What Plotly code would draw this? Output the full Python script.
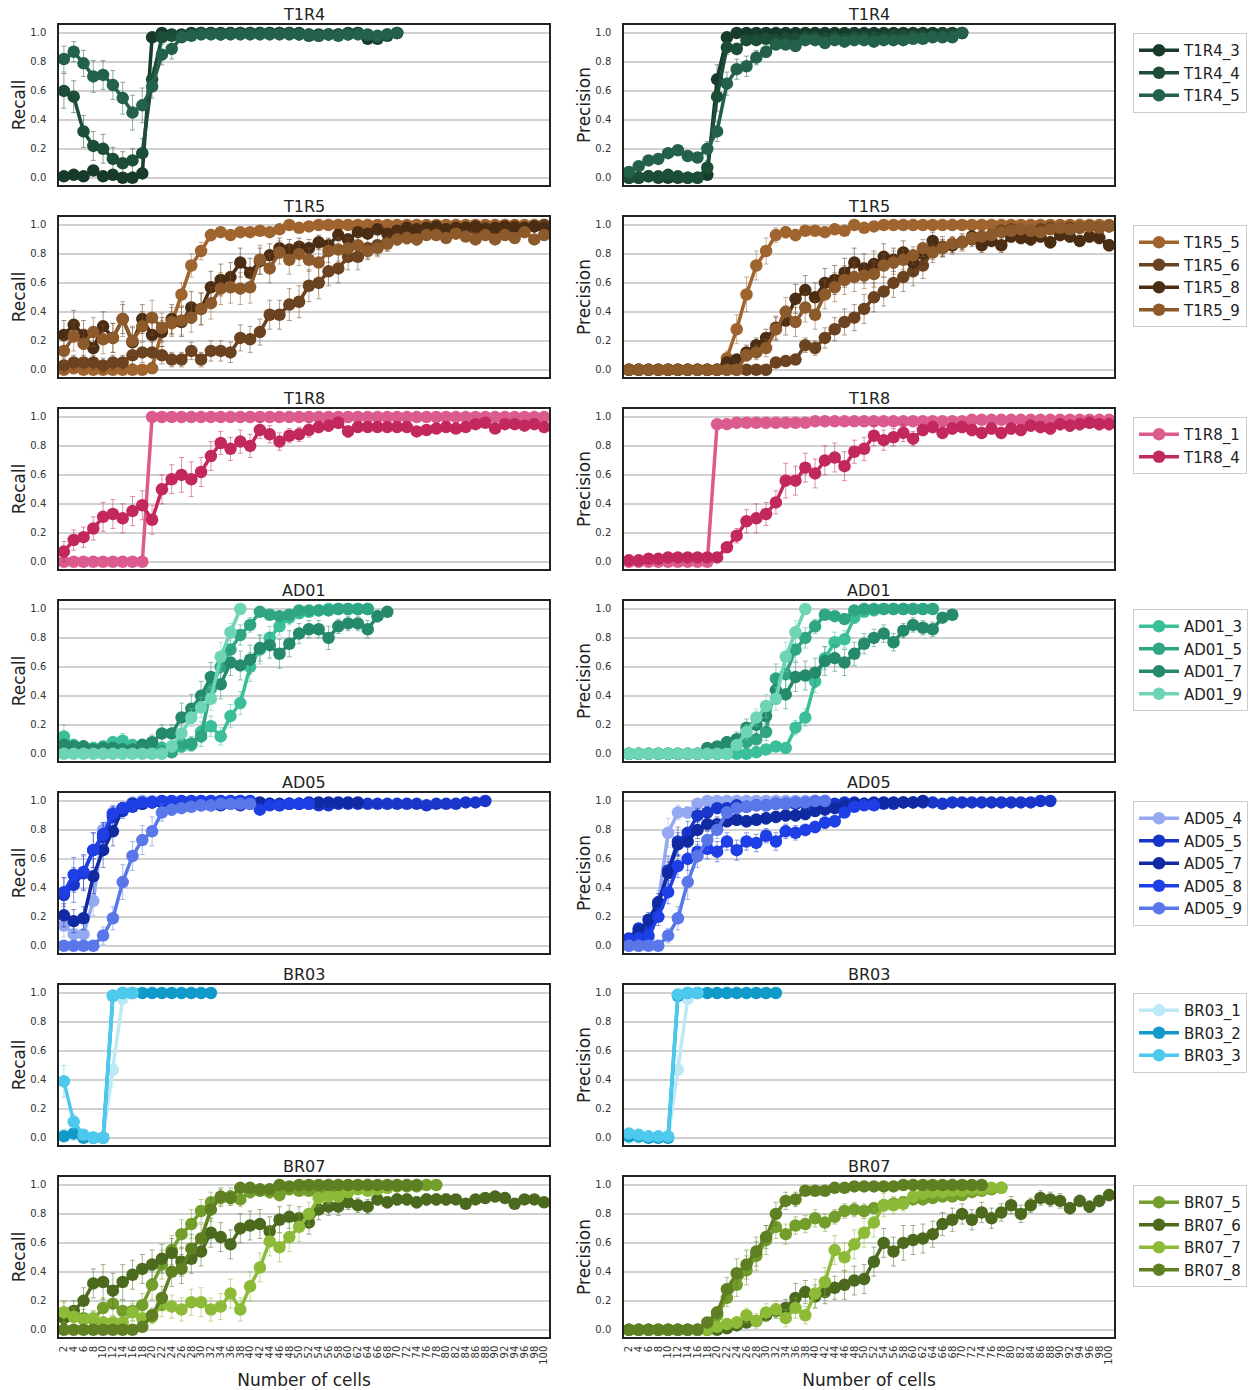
import plotly.graph_objects as go
from plotly.subplots import make_subplots

# ---------------- data ----------------
CELLS = [2, 4, 6, 8, 10, 12, 14, 16, 18, 20, 22, 24, 26, 28, 30, 32, 34, 36, 38, 40,
         42, 44, 46, 48, 50, 52, 54, 56, 58, 60, 62, 64, 66, 68, 70, 72, 74, 76, 78, 80,
         82, 84, 86, 88, 90, 92, 94, 96, 98, 100]
CELL_LABELS = [str(c) for c in CELLS]
SAMPLES = ["T1R4", "T1R5", "T1R8", "AD01", "AD05", "BR03", "BR07"]

# ---- T1R4 ----
T1R4_NAMES = ["T1R4_3", "T1R4_4", "T1R4_5"]
T1R4_COLORS = ["#173a2a", "#1c4d36", "#24614a"]
T1R4_3_REC = [0.01, 0.02, 0.01, 0.05, 0.01, 0.02, 0.0, 0.0, 0.03, 0.97,
              1.0, 0.99, 0.99, 1.0, 1.0, 1.0, 1.0, 1.0, 1.0, 1.0,
              1.0, 1.0, 1.0, 1.0, 1.0, 0.99, 0.99, 0.99, 0.99, 1.0,
              1.0, 0.96, 0.96, 0.98, 1.0]
T1R4_4_REC = [0.60, 0.56, 0.32, 0.22, 0.20, 0.13, 0.10, 0.12, 0.17, 0.68,
              0.97, 0.98, 0.98, 0.99, 1.0, 1.0, 0.99, 1.0, 1.0, 1.0,
              1.0, 1.0, 1.0, 1.0, 0.99, 0.98, 0.98, 0.99, 0.99, 0.99,
              1.0, 0.98, 0.97, 0.99, 1.0]
T1R4_5_REC = [0.82, 0.87, 0.79, 0.70, 0.71, 0.64, 0.55, 0.45, 0.50, 0.63,
              0.85, 0.89, 0.97, 0.98, 0.99, 0.99, 0.99, 0.99, 0.99, 0.99,
              0.99, 0.99, 0.99, 0.99, 0.99, 0.99, 0.98, 0.99, 0.98, 0.99,
              0.99, 0.99, 0.98, 0.99, 1.0]
T1R4_3_REC_ERR = [0.02, 0.02, 0.02, 0.03, 0.02, 0.02, 0.02, 0.02, 0.03, 0.03,
                  0.01, 0.01, 0.01, 0.01, 0.01, 0.01, 0.01, 0.01, 0.01, 0.01,
                  0.01, 0.01, 0.01, 0.01, 0.01, 0.01, 0.01, 0.01, 0.01, 0.01,
                  0.01, 0.02, 0.02, 0.01, 0.01]
T1R4_4_REC_ERR = [0.12, 0.11, 0.11, 0.10, 0.10, 0.08, 0.08, 0.08, 0.10, 0.08,
                  0.03, 0.02, 0.02, 0.01, 0.01, 0.01, 0.01, 0.01, 0.01, 0.01,
                  0.01, 0.01, 0.01, 0.01, 0.01, 0.01, 0.01, 0.01, 0.01, 0.01,
                  0.01, 0.02, 0.02, 0.01, 0.01]
T1R4_5_REC_ERR = [0.09, 0.07, 0.09, 0.11, 0.10, 0.10, 0.11, 0.12, 0.12, 0.08,
                  0.07, 0.07, 0.03, 0.02, 0.01, 0.01, 0.01, 0.01, 0.01, 0.01,
                  0.01, 0.01, 0.01, 0.01, 0.01, 0.01, 0.01, 0.01, 0.01, 0.01,
                  0.01, 0.01, 0.01, 0.01, 0.01]
T1R4_3_PRE = [0.0, 0.0, 0.01, 0.0, 0.0, 0.0, 0.0, 0.0, 0.02, 0.68,
              0.97, 1.0, 1.0, 1.0, 1.0, 1.0, 1.0, 1.0, 1.0, 1.0,
              1.0, 1.0, 1.0, 1.0, 1.0, 1.0, 1.0, 1.0, 1.0, 1.0,
              1.0, 1.0, 1.0, 1.0, 1.0]
T1R4_4_PRE = [0.0, 0.0, 0.01, 0.01, 0.02, 0.01, 0.0, 0.0, 0.07, 0.56,
              0.90, 0.89, 0.95, 0.95, 0.96, 0.95, 0.96, 0.96, 0.97, 0.97,
              0.96, 0.97, 0.96, 0.97, 0.97, 0.97, 0.97, 0.98, 0.98, 0.98,
              0.98, 0.98, 0.99, 0.99, 1.0]
T1R4_5_PRE = [0.04, 0.08, 0.12, 0.13, 0.17, 0.19, 0.15, 0.14, 0.20, 0.32,
              0.65, 0.75, 0.77, 0.83, 0.87, 0.92, 0.92, 0.91, 0.95, 0.95,
              0.93, 0.95, 0.94, 0.95, 0.95, 0.94, 0.95, 0.95, 0.95, 0.96,
              0.96, 0.97, 0.97, 0.97, 1.0]
T1R4_3_PRE_ERR = [0.01, 0.01, 0.01, 0.01, 0.01, 0.01, 0.01, 0.01, 0.02, 0.10,
                  0.02, 0.01, 0.01, 0.01, 0.01, 0.01, 0.01, 0.01, 0.01, 0.01,
                  0.01, 0.01, 0.01, 0.01, 0.01, 0.01, 0.01, 0.01, 0.01, 0.01,
                  0.01, 0.01, 0.01, 0.01, 0.01]
T1R4_4_PRE_ERR = [0.01, 0.01, 0.01, 0.01, 0.01, 0.01, 0.01, 0.01, 0.05, 0.10,
                  0.05, 0.04, 0.02, 0.02, 0.02, 0.02, 0.02, 0.02, 0.02, 0.02,
                  0.02, 0.02, 0.02, 0.02, 0.02, 0.02, 0.02, 0.01, 0.01, 0.01,
                  0.01, 0.01, 0.01, 0.01, 0.01]
T1R4_5_PRE_ERR = [0.03, 0.03, 0.03, 0.03, 0.03, 0.03, 0.03, 0.03, 0.05, 0.07,
                  0.08, 0.07, 0.07, 0.05, 0.04, 0.03, 0.03, 0.03, 0.02, 0.02,
                  0.02, 0.02, 0.02, 0.02, 0.02, 0.02, 0.02, 0.02, 0.02, 0.02,
                  0.02, 0.02, 0.02, 0.02, 0.01]

# ---- T1R5 ----
T1R5_NAMES = ["T1R5_5", "T1R5_6", "T1R5_8", "T1R5_9"]
T1R5_COLORS = ["#a0642f", "#6c4320", "#4b2d13", "#8c5a2b"]
T1R5_5_REC = [0.0, 0.01, 0.0, 0.0, 0.0, 0.0, 0.0, 0.0, 0.0, 0.01,
              0.27, 0.32, 0.52, 0.72, 0.82, 0.93, 0.95, 0.93, 0.95, 0.95,
              0.96, 0.95, 0.97, 1.0, 0.98, 0.99, 1.0, 1.0, 1.0, 1.0,
              1.0, 1.0, 1.0, 1.0, 1.0, 1.0, 1.0, 1.0, 1.0, 1.0,
              1.0, 1.0, 1.0, 1.0, 1.0, 1.0, 1.0, 1.0, 1.0, 1.0]
T1R5_6_REC = [0.03, 0.05, 0.05, 0.05, 0.03, 0.05, 0.05, 0.10, 0.12, 0.12,
              0.10, 0.07, 0.07, 0.13, 0.07, 0.13, 0.13, 0.12, 0.22, 0.21,
              0.26, 0.38, 0.38, 0.45, 0.47, 0.58, 0.60, 0.68, 0.70, 0.78,
              0.78, 0.84, 0.86, 0.88, 0.92, 0.92, 0.94, 0.95, 0.96, 0.97,
              0.96, 0.98, 0.97, 0.98, 0.97, 0.98, 0.99, 0.98, 0.99, 1.0]
T1R5_8_REC = [0.24, 0.31, 0.24, 0.15, 0.30, 0.22, 0.35, 0.19, 0.35, 0.24,
              0.26, 0.35, 0.33, 0.43, 0.42, 0.57, 0.62, 0.64, 0.74, 0.67,
              0.75, 0.79, 0.84, 0.83, 0.85, 0.84, 0.88, 0.86, 0.93, 0.90,
              0.95, 0.94, 0.97, 0.94, 0.96, 0.98, 0.97, 0.98, 0.99, 0.97,
              0.98, 0.98, 0.99, 0.97, 0.98, 0.99, 0.98, 0.98, 0.99, 0.98]
T1R5_9_REC = [0.13, 0.23, 0.18, 0.26, 0.21, 0.22, 0.35, 0.20, 0.30, 0.36,
              0.29, 0.33, 0.34, 0.36, 0.42, 0.46, 0.56, 0.57, 0.56, 0.57,
              0.76, 0.70, 0.81, 0.76, 0.80, 0.76, 0.74, 0.82, 0.83, 0.84,
              0.86, 0.82, 0.84, 0.87, 0.90, 0.91, 0.90, 0.93, 0.93, 0.91,
              0.94, 0.92, 0.90, 0.93, 0.90, 0.93, 0.91, 0.95, 0.90, 0.93]
T1R5_5_REC_ERR = [0.01, 0.01, 0.01, 0.01, 0.01, 0.01, 0.01, 0.01, 0.01, 0.01,
                  0.07, 0.08, 0.08, 0.08, 0.06, 0.04, 0.03, 0.03, 0.03, 0.03,
                  0.02, 0.02, 0.02, 0.02, 0.02, 0.02, 0.02, 0.02, 0.02, 0.02,
                  0.02, 0.02, 0.02, 0.02, 0.02, 0.02, 0.02, 0.02, 0.02, 0.02,
                  0.02, 0.02, 0.02, 0.02, 0.02, 0.02, 0.02, 0.02, 0.02, 0.02]
T1R5_6_REC_ERR = [0.05, 0.05, 0.05, 0.05, 0.05, 0.05, 0.05, 0.06, 0.07, 0.07,
                  0.06, 0.05, 0.05, 0.06, 0.05, 0.07, 0.07, 0.07, 0.09, 0.09,
                  0.09, 0.10, 0.10, 0.11, 0.11, 0.11, 0.11, 0.10, 0.10, 0.09,
                  0.09, 0.07, 0.07, 0.06, 0.05, 0.05, 0.04, 0.04, 0.03, 0.03,
                  0.03, 0.03, 0.03, 0.03, 0.03, 0.03, 0.02, 0.02, 0.02, 0.02]
T1R5_8_REC_ERR = [0.10, 0.10, 0.10, 0.08, 0.10, 0.10, 0.10, 0.10, 0.10, 0.10,
                  0.10, 0.10, 0.10, 0.11, 0.11, 0.11, 0.11, 0.10, 0.10, 0.10,
                  0.09, 0.08, 0.07, 0.07, 0.06, 0.06, 0.05, 0.05, 0.04, 0.04,
                  0.03, 0.03, 0.03, 0.03, 0.03, 0.02, 0.02, 0.02, 0.02, 0.02,
                  0.02, 0.02, 0.02, 0.02, 0.02, 0.02, 0.02, 0.02, 0.02, 0.02]
T1R5_9_REC_ERR = [0.08, 0.10, 0.10, 0.10, 0.10, 0.10, 0.12, 0.10, 0.10, 0.12,
                  0.10, 0.10, 0.10, 0.10, 0.11, 0.11, 0.11, 0.11, 0.11, 0.11,
                  0.10, 0.10, 0.08, 0.10, 0.08, 0.08, 0.10, 0.08, 0.08, 0.07,
                  0.06, 0.06, 0.06, 0.05, 0.04, 0.04, 0.04, 0.03, 0.03, 0.03,
                  0.03, 0.03, 0.03, 0.03, 0.03, 0.03, 0.03, 0.03, 0.03, 0.03]
T1R5_5_PRE = [0.0, 0.0, 0.0, 0.0, 0.0, 0.0, 0.0, 0.0, 0.0, 0.0,
              0.08, 0.28, 0.52, 0.72, 0.82, 0.93, 0.95, 0.93, 0.96, 0.96,
              0.95, 0.97, 0.96, 1.0, 0.98, 0.99, 1.0, 1.0, 1.0, 1.0,
              1.0, 1.0, 1.0, 1.0, 1.0, 1.0, 1.0, 1.0, 1.0, 1.0,
              1.0, 1.0, 1.0, 1.0, 1.0, 1.0, 1.0, 1.0, 1.0, 1.0]
T1R5_6_PRE = [0.0, 0.0, 0.0, 0.0, 0.0, 0.0, 0.0, 0.0, 0.0, 0.0,
              0.0, 0.0, 0.0, 0.0, 0.0, 0.05, 0.06, 0.07, 0.17, 0.15,
              0.22, 0.28, 0.33, 0.36, 0.42, 0.50, 0.54, 0.60, 0.64, 0.68,
              0.72, 0.82, 0.85, 0.86, 0.88, 0.90, 0.92, 0.93, 0.96, 0.97,
              0.95, 0.96, 0.97, 0.98, 0.97, 0.98, 0.98, 0.99, 0.98, 0.99]
T1R5_8_PRE = [0.0, 0.0, 0.0, 0.0, 0.0, 0.0, 0.0, 0.0, 0.0, 0.0,
              0.05, 0.07, 0.12, 0.17, 0.22, 0.29, 0.34, 0.49, 0.55, 0.50,
              0.60, 0.62, 0.67, 0.74, 0.70, 0.73, 0.78, 0.76, 0.81, 0.74,
              0.80, 0.89, 0.84, 0.86, 0.88, 0.92, 0.86, 0.89, 0.86, 0.92,
              0.91, 0.90, 0.92, 0.88, 0.93, 0.92, 0.89, 0.92, 0.91, 0.86]
T1R5_9_PRE = [0.0, 0.0, 0.0, 0.0, 0.0, 0.0, 0.0, 0.0, 0.0, 0.0,
              0.0, 0.0, 0.10, 0.12, 0.15, 0.28, 0.40, 0.33, 0.43, 0.38,
              0.52, 0.57, 0.62, 0.64, 0.65, 0.66, 0.72, 0.74, 0.76, 0.79,
              0.84, 0.81, 0.84, 0.87, 0.88, 0.91, 0.92, 0.93, 0.95, 0.96,
              0.97, 0.96, 0.95, 0.97, 0.98, 0.97, 0.98, 0.99, 0.98, 0.99]
T1R5_5_PRE_ERR = [0.01, 0.01, 0.01, 0.01, 0.01, 0.01, 0.01, 0.01, 0.01, 0.01,
                  0.05, 0.10, 0.12, 0.10, 0.09, 0.05, 0.04, 0.04, 0.03, 0.03,
                  0.03, 0.03, 0.03, 0.02, 0.02, 0.02, 0.02, 0.02, 0.02, 0.02,
                  0.02, 0.02, 0.02, 0.02, 0.02, 0.02, 0.02, 0.02, 0.02, 0.02,
                  0.02, 0.02, 0.02, 0.02, 0.02, 0.02, 0.02, 0.02, 0.02, 0.02]
T1R5_6_PRE_ERR = [0.01, 0.01, 0.01, 0.01, 0.01, 0.01, 0.01, 0.01, 0.01, 0.01,
                  0.01, 0.01, 0.01, 0.01, 0.01, 0.03, 0.03, 0.03, 0.05, 0.05,
                  0.07, 0.08, 0.09, 0.09, 0.10, 0.10, 0.10, 0.10, 0.10, 0.10,
                  0.09, 0.08, 0.07, 0.06, 0.06, 0.05, 0.04, 0.04, 0.03, 0.03,
                  0.03, 0.03, 0.03, 0.02, 0.02, 0.02, 0.02, 0.02, 0.02, 0.02]
T1R5_8_PRE_ERR = [0.01, 0.01, 0.01, 0.01, 0.01, 0.01, 0.01, 0.01, 0.01, 0.01,
                  0.03, 0.03, 0.05, 0.05, 0.06, 0.08, 0.10, 0.10, 0.10, 0.10,
                  0.10, 0.10, 0.10, 0.10, 0.10, 0.09, 0.09, 0.08, 0.08, 0.08,
                  0.07, 0.06, 0.06, 0.05, 0.05, 0.04, 0.05, 0.04, 0.05, 0.04,
                  0.04, 0.04, 0.04, 0.04, 0.04, 0.04, 0.04, 0.04, 0.04, 0.04]
T1R5_9_PRE_ERR = [0.01, 0.01, 0.01, 0.01, 0.01, 0.01, 0.01, 0.01, 0.01, 0.01,
                  0.01, 0.01, 0.04, 0.05, 0.06, 0.08, 0.10, 0.10, 0.10, 0.10,
                  0.10, 0.10, 0.10, 0.10, 0.09, 0.09, 0.08, 0.08, 0.07, 0.06,
                  0.06, 0.05, 0.05, 0.04, 0.04, 0.03, 0.03, 0.03, 0.03, 0.03,
                  0.02, 0.02, 0.02, 0.02, 0.02, 0.02, 0.02, 0.02, 0.02, 0.02]

# ---- T1R8 ----
T1R8_NAMES = ["T1R8_1", "T1R8_4"]
T1R8_COLORS = ["#dc5b8e", "#c2285e"]
T1R8_1_REC = [0.0, 0.0, 0.0, 0.0, 0.0, 0.0, 0.0, 0.0, 0.0, 1.0,
              1.0, 1.0, 1.0, 1.0, 1.0, 1.0, 1.0, 1.0, 1.0, 1.0,
              1.0, 1.0, 1.0, 1.0, 1.0, 1.0, 1.0, 1.0, 1.0, 1.0,
              1.0, 1.0, 1.0, 1.0, 1.0, 1.0, 1.0, 1.0, 1.0, 1.0,
              1.0, 1.0, 1.0, 1.0, 1.0, 1.0, 1.0, 1.0, 1.0, 1.0]
T1R8_4_REC = [0.07, 0.15, 0.17, 0.23, 0.31, 0.33, 0.30, 0.35, 0.39, 0.29,
              0.50, 0.57, 0.60, 0.57, 0.62, 0.73, 0.82, 0.78, 0.83, 0.80,
              0.91, 0.88, 0.83, 0.87, 0.88, 0.91, 0.93, 0.94, 0.96, 0.90,
              0.93, 0.93, 0.93, 0.93, 0.93, 0.93, 0.90, 0.91, 0.92, 0.93,
              0.92, 0.93, 0.95, 0.96, 0.92, 0.95, 0.95, 0.94, 0.95, 0.93]
T1R8_4_REC_ERR = [0.07, 0.07, 0.07, 0.08, 0.10, 0.10, 0.10, 0.10, 0.10, 0.10,
                  0.10, 0.10, 0.12, 0.12, 0.10, 0.10, 0.08, 0.08, 0.08, 0.08,
                  0.06, 0.06, 0.06, 0.05, 0.05, 0.05, 0.04, 0.04, 0.04, 0.04,
                  0.03, 0.03, 0.03, 0.03, 0.03, 0.03, 0.03, 0.03, 0.03, 0.03,
                  0.03, 0.03, 0.03, 0.03, 0.03, 0.03, 0.03, 0.03, 0.03, 0.03]
T1R8_1_PRE = [0.0, 0.0, 0.0, 0.0, 0.0, 0.0, 0.0, 0.0, 0.0, 0.95,
              0.95, 0.96, 0.96, 0.96, 0.96, 0.96, 0.96, 0.96, 0.96, 0.97,
              0.97, 0.97, 0.97, 0.97, 0.97, 0.97, 0.97, 0.97, 0.97, 0.97,
              0.97, 0.97, 0.97, 0.97, 0.97, 0.98, 0.98, 0.98, 0.98, 0.98,
              0.98, 0.98, 0.98, 0.98, 0.98, 0.98, 0.98, 0.98, 0.98, 0.98]
T1R8_4_PRE = [0.01, 0.01, 0.02, 0.02, 0.03, 0.03, 0.03, 0.03, 0.03, 0.03,
              0.10, 0.18, 0.28, 0.30, 0.33, 0.41, 0.56, 0.56, 0.65, 0.61,
              0.70, 0.72, 0.66, 0.76, 0.78, 0.87, 0.84, 0.86, 0.89, 0.85,
              0.91, 0.93, 0.89, 0.92, 0.93, 0.91, 0.89, 0.92, 0.89, 0.92,
              0.91, 0.94, 0.93, 0.92, 0.95, 0.94, 0.95, 0.96, 0.95, 0.95]
T1R8_4_PRE_ERR = [0.01, 0.01, 0.01, 0.01, 0.01, 0.01, 0.01, 0.01, 0.01, 0.01,
                  0.03, 0.05, 0.08, 0.10, 0.08, 0.08, 0.12, 0.10, 0.10, 0.10,
                  0.10, 0.10, 0.10, 0.08, 0.08, 0.07, 0.07, 0.06, 0.06, 0.05,
                  0.04, 0.04, 0.04, 0.04, 0.04, 0.04, 0.04, 0.04, 0.04, 0.04,
                  0.04, 0.04, 0.04, 0.04, 0.04, 0.04, 0.04, 0.04, 0.04, 0.04]

# ---- AD01 ----
AD01_NAMES = ["AD01_3", "AD01_5", "AD01_7", "AD01_9"]
AD01_COLORS = ["#3bbf9b", "#2fa583", "#25896b", "#6ed4b6"]
AD01_3_REC = [0.12, 0.06, 0.05, 0.04, 0.05, 0.08, 0.09, 0.06, 0.06, 0.05,
              0.04, 0.02, 0.05, 0.06, 0.15, 0.19, 0.12, 0.26, 0.35, 0.60,
              0.72, 0.80, 0.88, 0.94, 0.97, 0.98, 0.99, 1.0, 1.0, 1.0,
              1.0, 1.0]
AD01_5_REC = [0.06, 0.04, 0.04, 0.02, 0.04, 0.03, 0.03, 0.03, 0.04, 0.03,
              0.02, 0.01, 0.07, 0.07, 0.12, 0.45, 0.60, 0.72, 0.82, 0.89,
              0.98, 0.96, 0.95, 0.96, 0.99, 0.99, 0.99, 0.99, 1.0, 1.0,
              1.0, 1.0]
AD01_7_REC = [0.06, 0.05, 0.05, 0.03, 0.04, 0.04, 0.03, 0.03, 0.06, 0.08,
              0.14, 0.14, 0.25, 0.31, 0.40, 0.53, 0.48, 0.63, 0.61, 0.65,
              0.73, 0.75, 0.69, 0.76, 0.83, 0.86, 0.86, 0.80, 0.88, 0.90,
              0.90, 0.86, 0.95, 0.98]
AD01_9_REC = [0.0, 0.0, 0.0, 0.0, 0.0, 0.0, 0.0, 0.0, 0.0, 0.0,
              0.0, 0.05, 0.14, 0.25, 0.32, 0.38, 0.67, 0.84, 1.0]
AD01_3_REC_ERR = [0.08, 0.04, 0.04, 0.04, 0.04, 0.04, 0.05, 0.04, 0.04, 0.04,
                  0.03, 0.03, 0.04, 0.04, 0.07, 0.07, 0.06, 0.08, 0.08, 0.10,
                  0.10, 0.08, 0.06, 0.05, 0.03, 0.02, 0.02, 0.01, 0.01, 0.01,
                  0.01, 0.01]
AD01_5_REC_ERR = [0.04, 0.04, 0.04, 0.03, 0.04, 0.03, 0.03, 0.03, 0.04, 0.03,
                  0.03, 0.02, 0.05, 0.05, 0.07, 0.10, 0.10, 0.08, 0.07, 0.05,
                  0.02, 0.03, 0.03, 0.03, 0.02, 0.01, 0.01, 0.01, 0.01, 0.01,
                  0.01, 0.01]
AD01_7_REC_ERR = [0.04, 0.04, 0.04, 0.03, 0.04, 0.04, 0.03, 0.03, 0.04, 0.05,
                  0.06, 0.06, 0.10, 0.10, 0.10, 0.10, 0.10, 0.09, 0.10, 0.10,
                  0.09, 0.09, 0.10, 0.09, 0.07, 0.06, 0.06, 0.08, 0.05, 0.05,
                  0.05, 0.06, 0.04, 0.02]
AD01_9_REC_ERR = [0.02, 0.02, 0.02, 0.02, 0.02, 0.02, 0.02, 0.02, 0.02, 0.02,
                  0.02, 0.04, 0.05, 0.06, 0.07, 0.08, 0.10, 0.06, 0.0]
AD01_3_PRE = [0.0, 0.0, 0.0, 0.0, 0.0, 0.0, 0.0, 0.0, 0.0, 0.0,
              0.0, 0.0, 0.0, 0.01, 0.03, 0.05, 0.04, 0.18, 0.25, 0.50,
              0.66, 0.77, 0.79, 0.94, 0.98, 0.99, 1.0, 1.0, 1.0, 1.0,
              1.0, 1.0]
AD01_5_PRE = [0.0, 0.0, 0.0, 0.0, 0.0, 0.0, 0.0, 0.0, 0.0, 0.0,
              0.02, 0.06, 0.08, 0.10, 0.15, 0.52, 0.55, 0.72, 0.80, 0.88,
              0.96, 0.95, 0.93, 0.99, 1.0, 1.0, 1.0, 1.0, 1.0, 1.0,
              1.0, 1.0]
AD01_7_PRE = [0.0, 0.0, 0.0, 0.0, 0.0, 0.0, 0.0, 0.0, 0.04, 0.05,
              0.08, 0.10, 0.18, 0.20, 0.26, 0.44, 0.41, 0.53, 0.54, 0.56,
              0.64, 0.66, 0.63, 0.69, 0.76, 0.80, 0.83, 0.77, 0.85, 0.89,
              0.87, 0.86, 0.94, 0.96]
AD01_9_PRE = [0.0, 0.0, 0.0, 0.0, 0.0, 0.0, 0.0, 0.0, 0.0, 0.0,
              0.0, 0.06, 0.15, 0.25, 0.33, 0.38, 0.67, 0.84, 1.0]
AD01_3_PRE_ERR = [0.01, 0.01, 0.01, 0.01, 0.01, 0.01, 0.01, 0.01, 0.01, 0.01,
                  0.01, 0.01, 0.01, 0.02, 0.02, 0.03, 0.03, 0.05, 0.06, 0.08,
                  0.08, 0.07, 0.06, 0.04, 0.02, 0.01, 0.01, 0.01, 0.01, 0.01,
                  0.01, 0.01]
AD01_5_PRE_ERR = [0.01, 0.01, 0.01, 0.01, 0.01, 0.01, 0.01, 0.01, 0.01, 0.01,
                  0.02, 0.03, 0.04, 0.05, 0.06, 0.10, 0.10, 0.08, 0.07, 0.05,
                  0.03, 0.03, 0.03, 0.02, 0.01, 0.01, 0.01, 0.01, 0.01, 0.01,
                  0.01, 0.01]
AD01_7_PRE_ERR = [0.01, 0.01, 0.01, 0.01, 0.01, 0.01, 0.01, 0.01, 0.02, 0.03,
                  0.04, 0.05, 0.06, 0.07, 0.08, 0.10, 0.10, 0.10, 0.10, 0.10,
                  0.10, 0.09, 0.09, 0.08, 0.07, 0.06, 0.06, 0.06, 0.05, 0.05,
                  0.05, 0.05, 0.03, 0.03]
AD01_9_PRE_ERR = [0.01, 0.01, 0.01, 0.01, 0.01, 0.01, 0.01, 0.01, 0.01, 0.01,
                  0.01, 0.03, 0.05, 0.06, 0.08, 0.08, 0.10, 0.08, 0.0]

# ---- AD05 ----
AD05_NAMES = ["AD05_4", "AD05_5", "AD05_7", "AD05_8", "AD05_9"]
AD05_COLORS = ["#95a8f2", "#1836c9", "#102aa3", "#1e3ee6", "#5a77ea"]
AD05_4_REC = [0.14, 0.08, 0.08, 0.31, 0.80, 0.92, 0.95, 0.99, 1.0, 1.0,
              1.0, 1.0, 1.0, 1.0, 1.0, 1.0, 1.0, 1.0, 1.0, 1.0]
AD05_5_REC = [0.35, 0.42, 0.50, 0.66, 0.75, 0.89, 0.93, 0.96, 0.98, 0.99,
              0.99, 0.99, 0.98, 0.98, 0.97, 0.97, 0.97, 0.98, 0.97, 0.98,
              0.97, 0.98, 0.97, 0.98, 0.98, 0.98, 0.97, 0.97, 0.98, 0.98,
              0.98, 0.98, 0.98, 0.98, 0.98, 0.98, 0.98, 0.97, 0.98, 0.98,
              0.98, 0.99, 0.99, 1.0]
AD05_7_REC = [0.21, 0.17, 0.19, 0.48, 0.66, 0.79, 0.95, 0.98, 0.98, 0.99,
              0.99, 0.99, 0.99, 0.99, 0.99, 0.99, 0.99, 0.99, 0.99, 0.99,
              0.99, 0.98, 0.98, 0.98, 0.98, 0.99, 0.99, 0.99, 0.99, 0.99,
              0.99]
AD05_8_REC = [0.37, 0.49, 0.51, 0.66, 0.77, 0.91, 0.95, 0.97, 0.99, 0.99,
              1.0, 1.0, 1.0, 1.0, 1.0, 1.0, 1.0, 1.0, 1.0, 1.0,
              0.94, 0.97, 0.97, 0.98, 0.98, 0.98]
AD05_9_REC = [0.0, 0.0, 0.0, 0.0, 0.07, 0.19, 0.44, 0.62, 0.73, 0.79,
              0.92, 0.94, 0.95, 0.96, 0.97, 0.97, 0.98, 0.98, 0.98, 0.98]
AD05_4_REC_ERR = [0.08, 0.06, 0.06, 0.10, 0.05, 0.03, 0.03, 0.02, 0.01, 0.01,
                  0.01, 0.01, 0.01, 0.01, 0.01, 0.01, 0.01, 0.01, 0.01, 0.01]
AD05_5_REC_ERR = [0.12, 0.12, 0.12, 0.12, 0.10, 0.07, 0.05, 0.03, 0.02, 0.02,
                  0.02, 0.02, 0.02, 0.02, 0.02, 0.02, 0.02, 0.02, 0.02, 0.02,
                  0.02, 0.02, 0.02, 0.02, 0.02, 0.02, 0.02, 0.02, 0.02, 0.02,
                  0.02, 0.02, 0.02, 0.02, 0.02, 0.02, 0.02, 0.02, 0.02, 0.02,
                  0.02, 0.01, 0.01, 0.01]
AD05_7_REC_ERR = [0.08, 0.08, 0.08, 0.12, 0.12, 0.10, 0.04, 0.02, 0.02, 0.02,
                  0.02, 0.02, 0.02, 0.02, 0.02, 0.02, 0.02, 0.02, 0.02, 0.02,
                  0.02, 0.02, 0.02, 0.02, 0.02, 0.02, 0.02, 0.02, 0.02, 0.02,
                  0.02]
AD05_8_REC_ERR = [0.10, 0.12, 0.12, 0.12, 0.08, 0.06, 0.04, 0.03, 0.02, 0.02,
                  0.02, 0.02, 0.02, 0.02, 0.02, 0.02, 0.02, 0.02, 0.02, 0.02,
                  0.03, 0.02, 0.02, 0.02, 0.02, 0.02]
AD05_9_REC_ERR = [0.01, 0.01, 0.01, 0.01, 0.06, 0.08, 0.12, 0.10, 0.10, 0.10,
                  0.06, 0.04, 0.03, 0.03, 0.03, 0.02, 0.02, 0.02, 0.02, 0.02]
AD05_4_PRE = [0.0, 0.0, 0.05, 0.30, 0.78, 0.92, 0.92, 0.98, 1.0, 1.0,
              1.0, 1.0, 1.0, 1.0, 1.0, 1.0, 1.0, 1.0, 1.0, 1.0, 1.0]
AD05_5_PRE = [0.05, 0.12, 0.13, 0.28, 0.52, 0.72, 0.78, 0.90, 0.92, 0.95,
              0.95, 0.97, 0.96, 0.97, 0.97, 0.98, 0.98, 0.98, 0.98, 0.98,
              0.98, 0.98, 0.99, 0.99, 0.98, 0.99, 0.98, 0.98, 0.99, 0.99,
              0.99, 0.99, 0.98, 0.99, 0.99, 0.99, 0.99, 0.99, 0.99, 0.99,
              0.99, 0.99, 1.0, 1.0]
AD05_7_PRE = [0.02, 0.10, 0.18, 0.30, 0.50, 0.70, 0.72, 0.80, 0.84, 0.84,
              0.86, 0.87, 0.86, 0.87, 0.88, 0.89, 0.90, 0.90, 0.91, 0.93,
              0.94, 0.95, 0.97, 0.98, 0.98, 0.98, 0.99, 0.99, 0.99, 0.99,
              1.0]
AD05_8_PRE = [0.04, 0.05, 0.07, 0.20, 0.37, 0.55, 0.60, 0.65, 0.67, 0.65,
              0.72, 0.66, 0.72, 0.71, 0.76, 0.72, 0.79, 0.78, 0.80, 0.82,
              0.85, 0.86, 0.92, 0.96, 0.97, 0.97]
AD05_9_PRE = [0.0, 0.0, 0.0, 0.0, 0.07, 0.19, 0.44, 0.62, 0.73, 0.80,
              0.92, 0.95, 0.96, 0.97, 0.97, 0.98, 0.98, 0.99, 0.99, 1.0, 1.0]
AD05_4_PRE_ERR = [0.01, 0.01, 0.03, 0.08, 0.10, 0.05, 0.04, 0.02, 0.01, 0.01,
                  0.01, 0.01, 0.01, 0.01, 0.01, 0.01, 0.01, 0.01, 0.01, 0.01, 0.01]
AD05_5_PRE_ERR = [0.02, 0.03, 0.04, 0.06, 0.10, 0.10, 0.08, 0.05, 0.04, 0.03,
                  0.03, 0.02, 0.02, 0.02, 0.02, 0.02, 0.02, 0.02, 0.02, 0.02,
                  0.02, 0.02, 0.02, 0.02, 0.02, 0.02, 0.02, 0.02, 0.02, 0.02,
                  0.02, 0.02, 0.02, 0.02, 0.02, 0.02, 0.02, 0.02, 0.02, 0.02,
                  0.02, 0.01, 0.01, 0.01]
AD05_7_PRE_ERR = [0.02, 0.04, 0.05, 0.06, 0.08, 0.08, 0.08, 0.06, 0.05, 0.05,
                  0.04, 0.04, 0.04, 0.04, 0.04, 0.04, 0.04, 0.04, 0.04, 0.03,
                  0.03, 0.03, 0.02, 0.02, 0.02, 0.02, 0.02, 0.02, 0.02, 0.02,
                  0.01]
AD05_8_PRE_ERR = [0.02, 0.03, 0.04, 0.06, 0.08, 0.08, 0.08, 0.07, 0.07, 0.07,
                  0.06, 0.07, 0.06, 0.06, 0.05, 0.06, 0.05, 0.05, 0.04, 0.04,
                  0.04, 0.04, 0.03, 0.02, 0.02, 0.02]
AD05_9_PRE_ERR = [0.01, 0.01, 0.01, 0.01, 0.05, 0.08, 0.12, 0.08, 0.07, 0.06,
                  0.04, 0.03, 0.03, 0.02, 0.02, 0.02, 0.02, 0.02, 0.02, 0.01, 0.01]

# ---- BR03 ----
BR03_NAMES = ["BR03_1", "BR03_2", "BR03_3"]
BR03_COLORS = ["#bde9f6", "#109ac9", "#4dc9ee"]
BR03_1_REC = [0.02, 0.02, 0.01, 0.0, 0.0, 0.47, 0.96, 1.0]
BR03_2_REC = [0.01, 0.03, 0.0, 0.0, 0.0, 0.98, 1.0, 1.0, 1.0, 1.0,
              1.0, 1.0, 1.0, 1.0, 1.0, 1.0]
BR03_3_REC = [0.39, 0.11, 0.02, 0.0, 0.0, 0.98, 1.0, 1.0]
BR03_1_REC_ERR = [0.01, 0.01, 0.01, 0.0, 0.0, 0.12, 0.03, 0.0]
BR03_2_REC_ERR = [0.01, 0.02, 0.0, 0.0, 0.0, 0.01, 0.0, 0.0, 0.0, 0.0,
                  0.0, 0.0, 0.0, 0.0, 0.0, 0.0]
BR03_3_REC_ERR = [0.11, 0.05, 0.02, 0.01, 0.01, 0.02, 0.0, 0.0]
BR03_1_PRE = [0.0, 0.0, 0.0, 0.0, 0.0, 0.47, 0.96, 1.0]
BR03_2_PRE = [0.01, 0.01, 0.0, 0.0, 0.0, 0.98, 1.0, 1.0, 1.0, 1.0,
              1.0, 1.0, 1.0, 1.0, 1.0, 1.0]
BR03_3_PRE = [0.03, 0.02, 0.01, 0.01, 0.01, 0.99, 1.0, 1.0]
BR03_1_PRE_ERR = [0.0, 0.0, 0.0, 0.0, 0.0, 0.10, 0.03, 0.0]
BR03_2_PRE_ERR = [0.01, 0.01, 0.0, 0.0, 0.0, 0.01, 0.0, 0.0, 0.0, 0.0,
                  0.0, 0.0, 0.0, 0.0, 0.0, 0.0]
BR03_3_PRE_ERR = [0.02, 0.01, 0.01, 0.01, 0.01, 0.01, 0.0, 0.0]

# ---- BR07 ----
BR07_NAMES = ["BR07_5", "BR07_6", "BR07_7", "BR07_8"]
BR07_COLORS = ["#739e2c", "#4b6a1e", "#8dbb38", "#5e7f22"]
BR07_5_REC = [0.12, 0.09, 0.08, 0.07, 0.15, 0.18, 0.13, 0.13, 0.17, 0.31,
              0.45, 0.55, 0.66, 0.73, 0.82, 0.88, 0.91, 0.92, 0.90, 0.95,
              0.96, 0.95, 0.93, 0.97, 0.96, 0.96, 0.97, 0.97, 0.97, 0.98,
              0.98, 0.98, 0.97, 0.98, 0.99, 0.99, 0.99, 1.0, 1.0]
BR07_6_REC = [0.08, 0.13, 0.20, 0.32, 0.33, 0.27, 0.33, 0.38, 0.42, 0.45,
              0.49, 0.53, 0.47, 0.49, 0.54, 0.67, 0.64, 0.59, 0.70, 0.72,
              0.73, 0.68, 0.76, 0.78, 0.77, 0.74, 0.83, 0.85, 0.85, 0.88,
              0.86, 0.85, 0.90, 0.88, 0.90, 0.90, 0.88, 0.90, 0.90, 0.90,
              0.90, 0.87, 0.90, 0.91, 0.92, 0.91, 0.87, 0.90, 0.90, 0.88]
BR07_7_REC = [0.12, 0.09, 0.07, 0.08, 0.05, 0.05, 0.05, 0.12, 0.08, 0.09,
              0.17, 0.16, 0.14, 0.19, 0.19, 0.14, 0.16, 0.25, 0.14, 0.30,
              0.43, 0.61, 0.57, 0.64, 0.71, 0.80, 0.91, 0.92, 0.92, 0.95,
              0.97, 0.96, 0.97, 0.98]
BR07_8_REC = [0.0, 0.0, 0.0, 0.0, 0.0, 0.0, 0.0, 0.0, 0.02, 0.10,
              0.22, 0.40, 0.42, 0.56, 0.63, 0.83, 0.92, 0.91, 0.98, 0.98,
              0.97, 0.97, 1.0, 0.99, 1.0, 1.0, 1.0, 1.0, 1.0, 1.0,
              1.0, 1.0, 1.0, 1.0, 1.0, 1.0, 1.0]
BR07_5_REC_ERR = [0.08, 0.06, 0.06, 0.06, 0.07, 0.08, 0.07, 0.07, 0.08, 0.10,
                  0.10, 0.10, 0.10, 0.10, 0.08, 0.07, 0.06, 0.06, 0.05, 0.04,
                  0.04, 0.04, 0.04, 0.03, 0.03, 0.03, 0.03, 0.03, 0.03, 0.02,
                  0.02, 0.02, 0.02, 0.02, 0.02, 0.02, 0.02, 0.01, 0.01]
BR07_6_REC_ERR = [0.06, 0.07, 0.09, 0.10, 0.12, 0.12, 0.12, 0.10, 0.10, 0.10,
                  0.10, 0.10, 0.10, 0.10, 0.10, 0.10, 0.10, 0.10, 0.10, 0.10,
                  0.10, 0.10, 0.09, 0.08, 0.08, 0.08, 0.07, 0.06, 0.06, 0.05,
                  0.05, 0.05, 0.04, 0.04, 0.04, 0.04, 0.04, 0.04, 0.04, 0.04,
                  0.03, 0.03, 0.03, 0.03, 0.03, 0.03, 0.03, 0.03, 0.03, 0.03]
BR07_7_REC_ERR = [0.07, 0.06, 0.05, 0.05, 0.04, 0.04, 0.04, 0.06, 0.05, 0.05,
                  0.08, 0.08, 0.08, 0.09, 0.10, 0.08, 0.09, 0.10, 0.08, 0.10,
                  0.10, 0.10, 0.10, 0.10, 0.10, 0.08, 0.06, 0.05, 0.04, 0.03,
                  0.03, 0.03, 0.02, 0.02]
BR07_8_REC_ERR = [0.01, 0.01, 0.01, 0.01, 0.01, 0.01, 0.01, 0.01, 0.02, 0.05,
                  0.08, 0.10, 0.10, 0.10, 0.10, 0.08, 0.06, 0.05, 0.03, 0.03,
                  0.02, 0.02, 0.02, 0.02, 0.02, 0.02, 0.02, 0.02, 0.02, 0.02,
                  0.02, 0.02, 0.02, 0.02, 0.02, 0.02, 0.02]
BR07_5_PRE = [0.0, 0.0, 0.0, 0.0, 0.0, 0.0, 0.0, 0.0, 0.0, 0.10,
              0.22, 0.31, 0.41, 0.51, 0.62, 0.71, 0.66, 0.72, 0.73, 0.77,
              0.74, 0.78, 0.82, 0.83, 0.82, 0.84, 0.86, 0.87, 0.88, 0.90,
              0.90, 0.91, 0.92, 0.92, 0.93, 0.95, 0.96, 0.97, 0.98]
BR07_6_PRE = [0.0, 0.0, 0.0, 0.0, 0.0, 0.0, 0.0, 0.0, 0.0, 0.0,
              0.01, 0.03, 0.05, 0.06, 0.10, 0.13, 0.15, 0.22, 0.26, 0.23,
              0.26, 0.29, 0.31, 0.34, 0.35, 0.47, 0.60, 0.54, 0.60, 0.62,
              0.63, 0.66, 0.73, 0.76, 0.80, 0.76, 0.81, 0.77, 0.81, 0.86,
              0.80, 0.86, 0.91, 0.90, 0.89, 0.84, 0.89, 0.85, 0.89, 0.93]
BR07_7_PRE = [0.0, 0.0, 0.0, 0.0, 0.0, 0.0, 0.0, 0.0, 0.0, 0.02,
              0.04, 0.05, 0.10, 0.06, 0.12, 0.14, 0.08, 0.15, 0.10, 0.25,
              0.33, 0.55, 0.50, 0.59, 0.67, 0.74, 0.86, 0.86, 0.87, 0.92,
              0.94, 0.95, 0.95, 0.96, 0.96, 0.97, 0.97, 0.98, 0.98]
BR07_8_PRE = [0.0, 0.0, 0.0, 0.0, 0.0, 0.0, 0.0, 0.0, 0.05, 0.12,
              0.28, 0.39, 0.45, 0.54, 0.64, 0.80, 0.89, 0.90, 0.96, 0.96,
              0.96, 0.98, 0.98, 0.99, 0.99, 0.99, 0.99, 0.99, 1.0, 1.0,
              1.0, 1.0, 1.0, 1.0, 1.0, 1.0, 1.0]
BR07_5_PRE_ERR = [0.01, 0.01, 0.01, 0.01, 0.01, 0.01, 0.01, 0.01, 0.01, 0.04,
                  0.06, 0.08, 0.10, 0.10, 0.10, 0.08, 0.07, 0.06, 0.06, 0.06,
                  0.06, 0.05, 0.05, 0.05, 0.05, 0.04, 0.04, 0.04, 0.04, 0.03,
                  0.03, 0.03, 0.03, 0.03, 0.03, 0.02, 0.02, 0.02, 0.02]
BR07_6_PRE_ERR = [0.01, 0.01, 0.01, 0.01, 0.01, 0.01, 0.01, 0.01, 0.01, 0.01,
                  0.02, 0.02, 0.02, 0.03, 0.04, 0.05, 0.06, 0.10, 0.08, 0.08,
                  0.08, 0.08, 0.10, 0.10, 0.10, 0.10, 0.10, 0.10, 0.12, 0.10,
                  0.10, 0.09, 0.08, 0.08, 0.07, 0.07, 0.07, 0.07, 0.06, 0.06,
                  0.06, 0.05, 0.05, 0.05, 0.05, 0.04, 0.04, 0.04, 0.04, 0.04]
BR07_7_PRE_ERR = [0.01, 0.01, 0.01, 0.01, 0.01, 0.01, 0.01, 0.01, 0.01, 0.02,
                  0.03, 0.04, 0.05, 0.05, 0.06, 0.06, 0.06, 0.07, 0.06, 0.10,
                  0.10, 0.10, 0.10, 0.10, 0.10, 0.10, 0.08, 0.06, 0.05, 0.04,
                  0.04, 0.03, 0.03, 0.03, 0.02, 0.02, 0.02, 0.02, 0.02]
BR07_8_PRE_ERR = [0.01, 0.01, 0.01, 0.01, 0.01, 0.01, 0.01, 0.01, 0.02, 0.04,
                  0.08, 0.10, 0.10, 0.10, 0.08, 0.08, 0.06, 0.05, 0.03, 0.03,
                  0.02, 0.02, 0.02, 0.02, 0.02, 0.02, 0.02, 0.02, 0.02, 0.02,
                  0.02, 0.02, 0.02, 0.02, 0.02, 0.02, 0.02]

# ---------------- assemble panels ----------------
PANELS = [
    (T1R4_NAMES, T1R4_COLORS,
     [T1R4_3_REC, T1R4_4_REC, T1R4_5_REC], [T1R4_3_REC_ERR, T1R4_4_REC_ERR, T1R4_5_REC_ERR],
     [T1R4_3_PRE, T1R4_4_PRE, T1R4_5_PRE], [T1R4_3_PRE_ERR, T1R4_4_PRE_ERR, T1R4_5_PRE_ERR]),
    (T1R5_NAMES, T1R5_COLORS,
     [T1R5_5_REC, T1R5_6_REC, T1R5_8_REC, T1R5_9_REC],
     [T1R5_5_REC_ERR, T1R5_6_REC_ERR, T1R5_8_REC_ERR, T1R5_9_REC_ERR],
     [T1R5_5_PRE, T1R5_6_PRE, T1R5_8_PRE, T1R5_9_PRE],
     [T1R5_5_PRE_ERR, T1R5_6_PRE_ERR, T1R5_8_PRE_ERR, T1R5_9_PRE_ERR]),
    (T1R8_NAMES, T1R8_COLORS,
     [T1R8_1_REC, T1R8_4_REC], [None, T1R8_4_REC_ERR],
     [T1R8_1_PRE, T1R8_4_PRE], [None, T1R8_4_PRE_ERR]),
    (AD01_NAMES, AD01_COLORS,
     [AD01_3_REC, AD01_5_REC, AD01_7_REC, AD01_9_REC],
     [AD01_3_REC_ERR, AD01_5_REC_ERR, AD01_7_REC_ERR, AD01_9_REC_ERR],
     [AD01_3_PRE, AD01_5_PRE, AD01_7_PRE, AD01_9_PRE],
     [AD01_3_PRE_ERR, AD01_5_PRE_ERR, AD01_7_PRE_ERR, AD01_9_PRE_ERR]),
    (AD05_NAMES, AD05_COLORS,
     [AD05_4_REC, AD05_5_REC, AD05_7_REC, AD05_8_REC, AD05_9_REC],
     [AD05_4_REC_ERR, AD05_5_REC_ERR, AD05_7_REC_ERR, AD05_8_REC_ERR, AD05_9_REC_ERR],
     [AD05_4_PRE, AD05_5_PRE, AD05_7_PRE, AD05_8_PRE, AD05_9_PRE],
     [AD05_4_PRE_ERR, AD05_5_PRE_ERR, AD05_7_PRE_ERR, AD05_8_PRE_ERR, AD05_9_PRE_ERR]),
    (BR03_NAMES, BR03_COLORS,
     [BR03_1_REC, BR03_2_REC, BR03_3_REC], [BR03_1_REC_ERR, BR03_2_REC_ERR, BR03_3_REC_ERR],
     [BR03_1_PRE, BR03_2_PRE, BR03_3_PRE], [BR03_1_PRE_ERR, BR03_2_PRE_ERR, BR03_3_PRE_ERR]),
    (BR07_NAMES, BR07_COLORS,
     [BR07_5_REC, BR07_6_REC, BR07_7_REC, BR07_8_REC],
     [BR07_5_REC_ERR, BR07_6_REC_ERR, BR07_7_REC_ERR, BR07_8_REC_ERR],
     [BR07_5_PRE, BR07_6_PRE, BR07_7_PRE, BR07_8_PRE],
     [BR07_5_PRE_ERR, BR07_6_PRE_ERR, BR07_7_PRE_ERR, BR07_8_PRE_ERR]),
]

# ---------------- figure ----------------
W, H = 1252, 1390
FONT = "DejaVu Sans"
LEFT_X = (59, 549)
RIGHT_X = (624, 1114)
ROW_TOP0, ROW_STEP, ROW_H = 25, 192, 160

fig = make_subplots(rows=7, cols=2)


def rgba(hexc, a):
    h = hexc.lstrip("#")
    return "rgba(%d,%d,%d,%.2f)" % (int(h[0:2], 16), int(h[2:4], 16), int(h[4:6], 16), a)


for r, (names, colors, recs, rec_errs, pres, pre_errs) in enumerate(PANELS):
    legend_id = "legend" if r == 0 else "legend%d" % (r + 1)
    for c, (vals_list, errs_list) in enumerate([(recs, rec_errs), (pres, pre_errs)]):
        for name, color, vals, errs in zip(names, colors, vals_list, errs_list):
            n = len(vals)
            fig.add_trace(
                go.Scatter(
                    x=CELLS[:n], y=vals, mode="lines+markers", name=name,
                    line=dict(color=color, width=3.5),
                    marker=dict(color=color, size=12.5),
                    error_y=dict(type="data", array=errs if errs is not None else [],
                                 visible=errs is not None, color=rgba(color, 0.5),
                                 thickness=1, width=2.5),
                    legend=legend_id, legendgroup=name, showlegend=(c == 1),
                ),
                row=r + 1, col=c + 1,
            )

    top = ROW_TOP0 + ROW_STEP * r
    bottom = top + ROW_H
    ydom = [1 - bottom / H, 1 - top / H]
    for c in range(2):
        xr = LEFT_X if c == 0 else RIGHT_X
        xdom = [xr[0] / W, xr[1] / W]
        idx = r * 2 + c + 1
        xa = "xaxis" if idx == 1 else "xaxis%d" % idx
        ya = "yaxis" if idx == 1 else "yaxis%d" % idx
        last = r == len(PANELS) - 1
        fig.layout[xa].update(
            domain=xdom, range=[1, 101], tickmode="array", tickvals=CELLS, ticktext=CELL_LABELS,
            showticklabels=last, tickangle=-90, tickfont=dict(size=10, color="#333333", family=FONT),
            showgrid=False, zeroline=False, showline=True, linecolor="#222222", linewidth=1.5,
            mirror=True, ticks="", ticklabelstandoff=3,
            title=dict(text="Number of cells" if last else "", font=dict(size=17, color="#222222", family=FONT), standoff=12),
        )
        fig.layout[ya].update(
            domain=ydom, range=[-0.05, 1.055], tickmode="array",
            tickvals=[0, 0.2, 0.4, 0.6, 0.8, 1.0], ticktext=["0.0", "0.2", "0.4", "0.6", "0.8", "1.0"],
            tickfont=dict(size=10, color="#333333", family=FONT),
            showgrid=True, gridcolor="#d0d0d0", gridwidth=1.5, zeroline=False,
            showline=True, linecolor="#222222", linewidth=1.5, mirror=True, ticks="",
            ticklabelstandoff=9,
            title=dict(text="Recall" if c == 0 else "Precision", font=dict(size=17, color="#222222", family=FONT), standoff=0),
        )
        fig.add_annotation(
            text=SAMPLES[r], x=(xdom[0] + xdom[1]) / 2, y=ydom[1], xref="paper", yref="paper",
            xanchor="center", yanchor="bottom", showarrow=False, yshift=-1,
            font=dict(size=16, color="#222222", family=FONT),
        )
    fig.layout[legend_id] = dict(
        x=1133 / W, xanchor="left", y=1 - (33 + ROW_STEP * r) / H, yanchor="top",
        bgcolor="white", bordercolor="#cccccc", borderwidth=1,
        font=dict(size=15, color="#222222", family=FONT), itemwidth=40,
        tracegroupgap=0,
    )

fig.update_layout(
    width=W, height=H, margin=dict(l=0, r=0, t=0, b=0),
    paper_bgcolor="white", plot_bgcolor="white",
    font=dict(family=FONT, color="#222222"),
)

fig.write_html("out.html")
